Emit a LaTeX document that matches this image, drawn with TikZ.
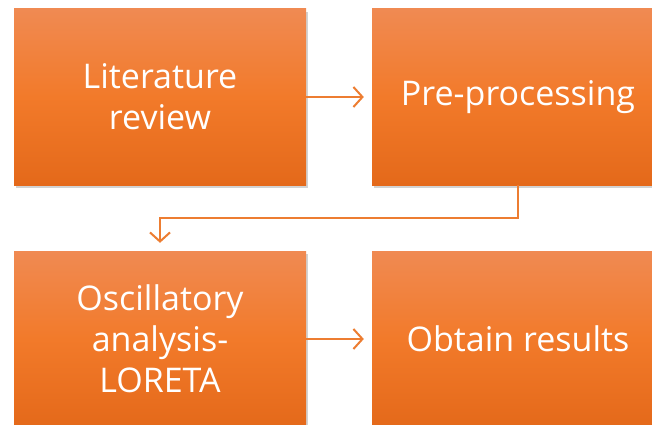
\documentclass[tikz,border=0pt]{standalone}
\usepackage{fontspec}
\setmainfont{Open Sans}
\usetikzlibrary{arrows.meta,shadows}
\definecolor{boxTop}{HTML}{F08A52}
\definecolor{boxMid}{HTML}{F27A2A}
\definecolor{boxBot}{HTML}{E4691A}
\definecolor{linkOrange}{HTML}{ED7D31}
\begin{document}
\begin{tikzpicture}[
        x=1pt, y=1pt,
        stepbox/.style={rectangle, top color=boxTop, bottom color=boxBot, middle color=boxMid,
            minimum width=292pt, minimum height=176pt, inner sep=0pt, text=white,
            font=\fontsize{34}{41}\selectfont, align=center,
            drop shadow={shadow xshift=2pt, shadow yshift=-3pt, opacity=0.35}},
        arrow/.style={-{Straight Barb[length=9pt,width=20pt,line width=2pt]}, line width=2pt, linkOrange, shorten >=8pt}
    ]
    \clip (0,0) rectangle (652,424);
    \fill[white] (0,0) rectangle (652,424);

    \node[stepbox] (litRev) at (160,327) {Literature\\review};
    \node[stepbox] (prePro) at (518,327) {Pre-processing};
    \node[stepbox] (oscAna) at (160,85) {Oscillatory\\analysis-\\LORETA};
    \node[stepbox] (obtRes) at (518,85) {Obtain results};

    \draw[arrow] (litRev) -- (prePro);
    \draw[arrow] (prePro.south) -- ++(0,-33) -| (oscAna.north);
    \draw[arrow] (oscAna) -- (obtRes);

    \end{tikzpicture}
\end{document}
